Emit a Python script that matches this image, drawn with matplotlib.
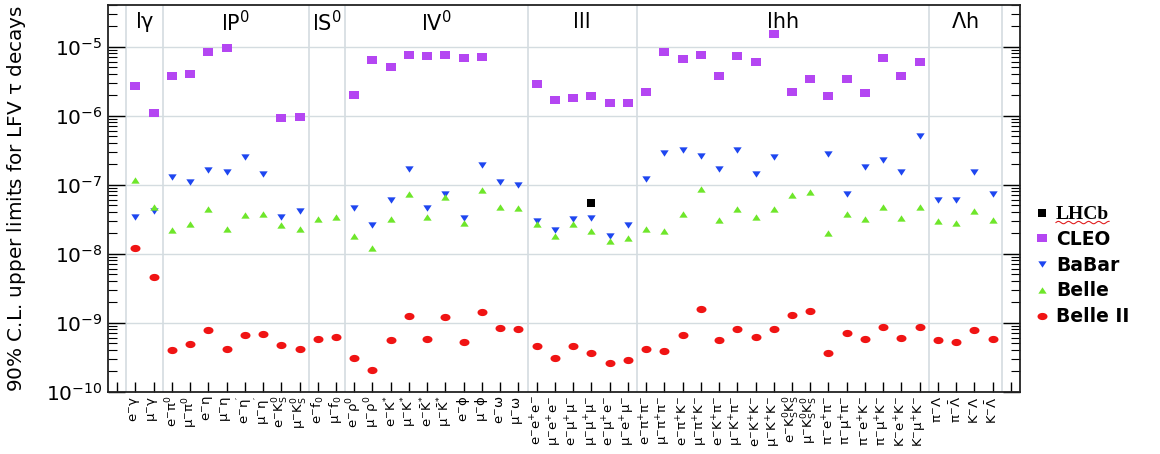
import numpy as np
import matplotlib
matplotlib.use("Agg")
import matplotlib.pyplot as plt
from matplotlib.lines import Line2D
from matplotlib.ticker import LogLocator, NullFormatter, FixedLocator

plt.rcParams['font.family'] = ['DejaVu Sans']
plt.rcParams['mathtext.fontset'] = 'dejavusans'
plt.rcParams['mathtext.default'] = 'regular'

nan = np.nan

# ---------------- data ----------------
categories = ['l$\\gamma$', 'lP$^{0}$', 'lS$^{0}$', 'lV$^{0}$', 'lll', 'lhh', '$\\Lambda$h']
category_sizes = [2, 8, 2, 10, 6, 16, 4]

channels = [
    r'$e^{-}\gamma$', r'$\mu^{-}\gamma$',
    r'$e^{-}\pi^{0}$', r'$\mu^{-}\pi^{0}$', r'$e^{-}\eta$', r'$\mu^{-}\eta$',
    r"$e^{-}\eta'$", r"$\mu^{-}\eta'$", r'$e^{-}K_{S}^{0}$', r'$\mu^{-}K_{S}^{0}$',
    r'$e^{-}f_{0}$', r'$\mu^{-}f_{0}$',
    r'$e^{-}\rho^{0}$', r'$\mu^{-}\rho^{0}$', r'$e^{-}K^{*}$', r'$\mu^{-}K^{*}$',
    r'$e^{-}\bar{K}^{*}$', r'$\mu^{-}\bar{K}^{*}$', r'$e^{-}\phi$', r'$\mu^{-}\phi$',
    r'$e^{-}\omega$', r'$\mu^{-}\omega$',
    r'$e^{-}e^{+}e^{-}$', r'$\mu^{-}e^{+}e^{-}$', r'$e^{-}\mu^{+}\mu^{-}$',
    r'$\mu^{-}\mu^{+}\mu^{-}$', r'$e^{-}\mu^{+}e^{-}$', r'$\mu^{-}e^{+}\mu^{-}$',
    r'$e^{-}\pi^{+}\pi^{-}$', r'$\mu^{-}\pi^{+}\pi^{-}$', r'$e^{-}\pi^{+}K^{-}$', r'$\mu^{-}\pi^{+}K^{-}$',
    r'$e^{-}K^{+}\pi^{-}$', r'$\mu^{-}K^{+}\pi^{-}$', r'$e^{-}K^{+}K^{-}$', r'$\mu^{-}K^{+}K^{-}$',
    r'$e^{-}K_{S}^{0}K_{S}^{0}$', r'$\mu^{-}K_{S}^{0}K_{S}^{0}$',
    r'$\pi^{-}e^{+}\pi^{-}$', r'$\pi^{-}\mu^{+}\pi^{-}$', r'$\pi^{-}e^{+}K^{-}$', r'$\pi^{-}\mu^{+}K^{-}$',
    r'$K^{-}e^{+}K^{-}$', r'$K^{-}\mu^{+}K^{-}$',
    r'$\pi^{-}\Lambda$', r'$\pi^{-}\bar{\Lambda}$', r'$K^{-}\Lambda$', r'$K^{-}\bar{\Lambda}$',
]

cleo = [2.7e-6, 1.1e-6,
        3.7e-6, 4.0e-6, 8.2e-6, 9.6e-6, nan, nan, 9.1e-7, 9.5e-7,
        nan, nan,
        2.0e-6, 6.3e-6, 5.1e-6, 7.5e-6, 7.4e-6, 7.5e-6, 6.9e-6, 7.0e-6, nan, nan,
        2.9e-6, 1.7e-6, 1.8e-6, 1.9e-6, 1.5e-6, 1.5e-6,
        2.2e-6, 8.3e-6, 6.5e-6, 7.5e-6, 3.8e-6, 7.4e-6, 6.0e-6, 1.5e-5,
        2.2e-6, 3.4e-6, 1.9e-6, 3.4e-6, 2.1e-6, 6.9e-6, 3.8e-6, 6.0e-6,
        nan, nan, nan, nan]

babar = [3.4e-8, 4.2e-8,
         1.3e-7, 1.1e-7, 1.6e-7, 1.5e-7, 2.5e-7, 1.4e-7, 3.4e-8, 4.1e-8,
         nan, nan,
         4.6e-8, 2.6e-8, 5.9e-8, 1.7e-7, 4.6e-8, 7.3e-8, 3.3e-8, 1.9e-7, 1.1e-7, 1.0e-7,
         2.97e-8, 2.2e-8, 3.2e-8, 3.3e-8, 1.8e-8, 2.6e-8,
         1.2e-7, 2.9e-7, 3.2e-7, 2.6e-7, 1.7e-7, 3.2e-7, 1.4e-7, 2.5e-7,
         nan, nan, 2.75e-7, 7.2e-8, 1.8e-7, 2.3e-7, 1.5e-7, 5.0e-7,
         6.0e-8, 6.0e-8, 1.5e-7, 7.2e-8]

belle = [1.17e-7, 4.8e-8,
         2.2e-8, 2.7e-8, 4.4e-8, 2.3e-8, 3.6e-8, 3.8e-8, 2.6e-8, 2.3e-8,
         3.2e-8, 3.4e-8,
         1.8e-8, 1.2e-8, 3.2e-8, 7.2e-8, 3.4e-8, 6.7e-8, 2.8e-8, 8.4e-8, 4.7e-8, 4.6e-8,
         2.7e-8, 1.8e-8, 2.7e-8, 2.1e-8, 1.5e-8, 1.7e-8,
         2.3e-8, 2.1e-8, 3.7e-8, 8.6e-8, 3.1e-8, 4.4e-8, 3.4e-8, 4.4e-8,
         7.1e-8, 7.9e-8, 2.0e-8, 3.8e-8, 3.2e-8, 4.8e-8, 3.3e-8, 4.7e-8,
         3.0e-8, 2.8e-8, 4.2e-8, 3.1e-8]

belle2 = [1.19e-8, 4.5e-9,
          4.0e-10, 4.9e-10, 7.9e-10, 4.2e-10, 6.5e-10, 6.9e-10, 4.7e-10, 4.2e-10,
          5.8e-10, 6.1e-10,
          3.1e-10, 2.06e-10, 5.5e-10, 1.25e-9, 5.8e-10, 1.21e-9, 5.3e-10, 1.44e-9, 8.2e-10, 8.0e-10,
          4.6e-10, 3.1e-10, 4.6e-10, 3.6e-10, 2.6e-10, 2.9e-10,
          4.2e-10, 3.8e-10, 6.7e-10, 1.56e-9, 5.6e-10, 8.1e-10, 6.1e-10, 8.0e-10,
          1.29e-9, 1.46e-9, 3.6e-10, 7.1e-10, 5.8e-10, 8.65e-10, 6.0e-10, 8.5e-10,
          5.5e-10, 5.2e-10, 7.7e-10, 5.7e-10]

lhcb_channel = [25]
lhcb = [5.4e-8]

y_decades = [1e-10, 1e-9, 1e-8, 1e-7, 1e-6, 1e-5]

# ---------------- styles ----------------
col_cleo = '#B446F2'
col_babar = '#1E46F0'
col_belle = '#6EE62A'
col_belle2 = '#F01414'

rect_marker = [(-0.5, -0.36), (0.5, -0.36), (0.5, 0.36), (-0.5, 0.36), (-0.5, -0.36)]
tdown_marker = [(-0.5, 0.38), (0.5, 0.38), (0.0, -0.38), (-0.5, 0.38)]
tup_marker = [(-0.5, -0.38), (0.5, -0.38), (0.0, 0.38), (-0.5, -0.38)]
_t = np.linspace(0, 2 * np.pi, 41)
ell_marker = list(zip(0.5 * np.cos(_t), 0.36 * np.sin(_t)))

fig = plt.figure(figsize=(11.6, 4.54), dpi=100)
ax = fig.add_axes([108 / 1160, 1 - 391.5 / 454, 912 / 1160, 386.5 / 454])

x = np.arange(len(channels))

# grid / separators
ax.set_yscale('log')
ax.set_ylim(1e-10, 4e-5)
ax.set_xlim(-1.5, len(channels) + 0.5)
grid_col = '#d4dce0'
for dec in y_decades[1:]:
    ax.axhline(dec, color=grid_col, lw=1.0, zorder=0)
bounds = np.concatenate([[0], np.cumsum(category_sizes)]) - 0.5
for b in bounds:
    ax.axvline(b, color=grid_col, lw=1.2, zorder=0)

ms = 7.2
ax.plot(x, cleo, linestyle='none', marker=rect_marker, ms=ms, mew=0, color=col_cleo, zorder=3)
ax.plot(x, babar, linestyle='none', marker=tdown_marker, ms=6.0, mew=0, color=col_babar, zorder=3)
ax.plot(x, belle, linestyle='none', marker=tup_marker, ms=6.0, mew=0, color=col_belle, zorder=3)
ax.plot(x, belle2, linestyle='none', marker=ell_marker, ms=ms, mew=0, color=col_belle2, zorder=3)
ax.plot(lhcb_channel, lhcb, linestyle='none', marker='s', ms=6.0, mew=0, color='black', zorder=4)

# category labels
for name, lo, hi in zip(categories, bounds[:-1], bounds[1:]):
    ax.text((lo + hi) / 2, 0.955, name, transform=ax.get_xaxis_transform(),
            ha='center', va='center', fontsize=15)

# x ticks
xt = np.arange(-1, len(channels) + 1)
ax.set_xticks(xt)
ax.set_xticklabels([''] + channels + [''], rotation=90, fontsize=9.5, va='top', ha='center')
ax.tick_params(axis='x', direction='in', length=7.2, width=1, top=False, pad=3)

# y ticks
ax.yaxis.set_major_locator(FixedLocator(y_decades))
ax.yaxis.set_minor_locator(LogLocator(base=10, subs=np.arange(2, 10), numticks=20))
ax.yaxis.set_minor_formatter(NullFormatter())
ax.tick_params(axis='y', which='major', direction='in', length=12, width=1, right=True, labelsize=14.5, pad=4)
ax.tick_params(axis='y', which='minor', direction='in', length=6.5, width=0.8, right=True)
ax.set_yticklabels([r'$10^{%d}$' % int(round(np.log10(v))) for v in y_decades])

for sp in ax.spines.values():
    sp.set_linewidth(1.3)
    sp.set_color('#222222')

ax.set_ylabel(r'90% C.L. upper limits for LFV $\tau$ decays', fontsize=14.4)
ax.yaxis.set_label_coords((28 - 108) / 912, 0.5)

# legend
handles = [
    Line2D([], [], linestyle='none', marker='s', ms=6.0, mew=0, color='black'),
    Line2D([], [], linestyle='none', marker=rect_marker, ms=ms, mew=0, color=col_cleo),
    Line2D([], [], linestyle='none', marker=tdown_marker, ms=6.0, mew=0, color=col_babar),
    Line2D([], [], linestyle='none', marker=tup_marker, ms=6.0, mew=0, color=col_belle),
    Line2D([], [], linestyle='none', marker=ell_marker, ms=ms, mew=0, color=col_belle2),
]
names = ['LHCb', 'CLEO', 'BaBar', 'Belle', 'Belle II']
leg = fig.legend(handles, names, loc='center left', bbox_to_anchor=(1025 / 1160, 1 - 266 / 454),
                 frameon=False, handlelength=0.8, handletextpad=0.35, labelspacing=0.36,
                 prop={'weight': 'bold', 'size': 13.5}, borderpad=0)
leg.get_texts()[0].set_fontfamily('Liberation Serif')
leg.get_texts()[0].set_fontsize(14)

# red spell-check squiggle under "LHCb" (as in the reference screenshot)
fig.canvas.draw()
bb = leg.get_texts()[0].get_window_extent(fig.canvas.get_renderer())
sx = np.linspace(bb.x0, bb.x1, 60)
sy = bb.y0 + 0.5 + 1.2 * np.sin((sx - bb.x0) / 1.6)
fig.add_artist(Line2D(sx, sy, transform=None, color='#E02020', lw=0.8))

fig.savefig('out.png', dpi=100)
